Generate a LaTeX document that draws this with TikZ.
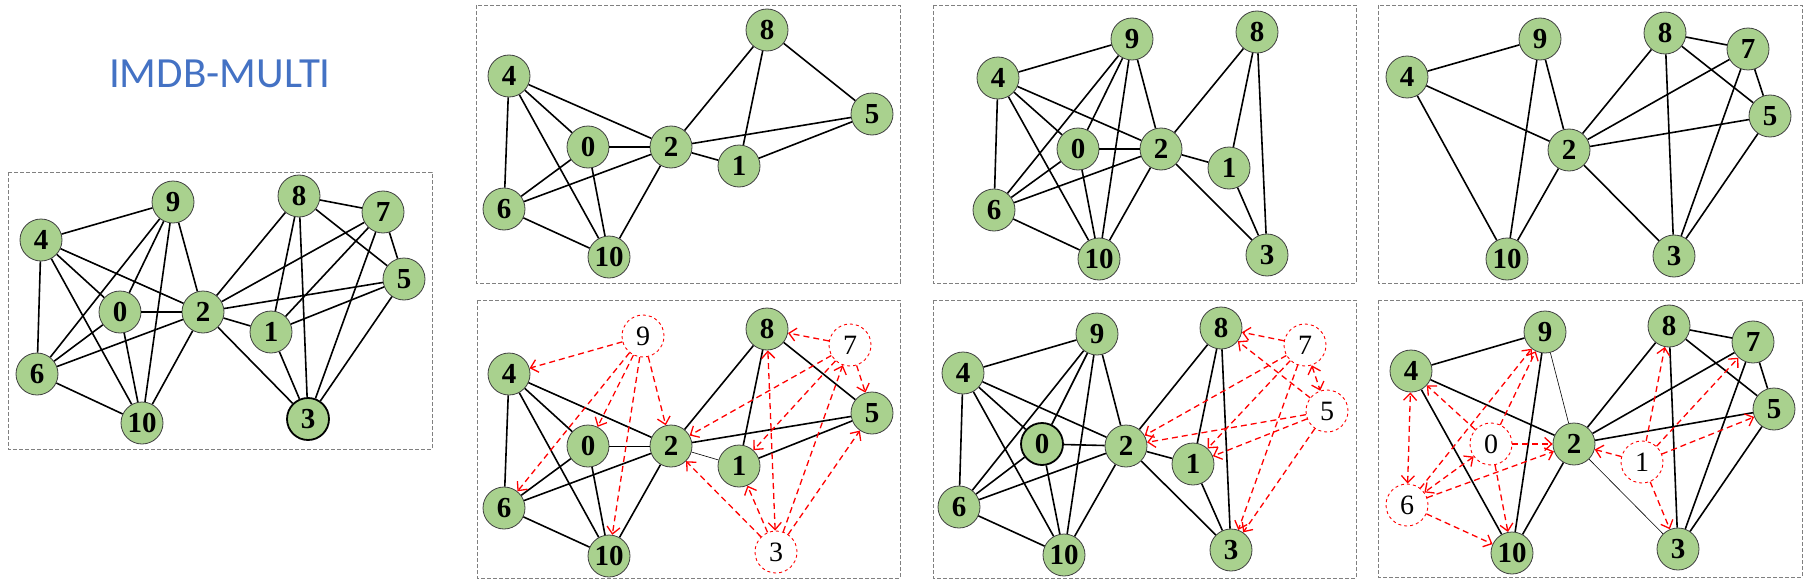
\documentclass[tikz,border=0pt]{standalone}
\usepackage{fontspec}
\setmainfont{Liberation Serif}
\newfontfamily\titlefont{Carlito}
\usepackage{xcolor}
\usetikzlibrary{arrows.meta}
\definecolor{nodegreen}{HTML}{A9D18E}
\definecolor{titleblue}{HTML}{4472C4}
\tikzset{
  gnode/.style={circle, draw=black!75, line width=0.8pt, fill=nodegreen, minimum size=42pt, inner sep=0pt, font=\fontsize{29}{29}\selectfont\bfseries},
  hnode/.style={gnode, draw=black, line width=1.8pt},
  rnode/.style={circle, draw=red, dashed, line width=0.9pt, fill=white, minimum size=42pt, inner sep=0pt, font=\fontsize{28}{28}\selectfont},
  panel/.style={draw=black!50, dash pattern=on 4pt off 2pt, line width=0.8pt},
  every edge/.style={draw, line width=1.6pt},
  thinedge/.style={line width=0.6pt},
  redarr/.style={->, draw=red, line width=1.3pt, dash pattern=on 6pt off 4pt},
  redboth/.style={redarr, <->},
  >={Straight Barb[length=7pt,width=13pt]}
}
\begin{document}
\begin{tikzpicture}[x=1pt,y=-1pt]
    \useasboundingbox (0,0) rectangle (1810,586);
    \node[text=titleblue, font=\titlefont\fontsize{43}{43}\selectfont] at (220,74) (title) {IMDB-MULTI};

    % original graph
    \draw[panel] (8,172) rectangle (432,449);
    \node[gnode] at (173,202) (a9) {9};
    \node[gnode] at (41,240) (a4) {4};
    \node[gnode] at (120,312) (a0) {0};
    \node[gnode] at (203,312) (a2) {2};
    \node[gnode] at (37,374) (a6) {6};
    \node[gnode] at (142,423) (a10) {10};
    \node[gnode] at (299,196) (a8) {8};
    \node[gnode] at (383,212) (a7) {7};
    \node[gnode] at (404,279) (a5) {5};
    \node[gnode] at (271,332) (a1) {1};
    \node[hnode] at (308,419) (a3) {3};
    \draw (a4) edge (a9) edge (a2) edge (a0) edge (a6) edge (a10);
    \draw (a9) edge (a6) edge (a0) edge (a10) edge (a2);
    \draw (a0) edge (a2) edge (a6) edge (a10);
    \draw (a6) edge (a2) edge (a10);
    \draw (a2) edge (a10) edge (a8) edge (a7) edge (a5) edge (a1) edge (a3);
    \draw (a8) edge (a7) edge (a1) edge (a3) edge (a5);
    \draw (a7) edge (a5) edge (a1) edge (a3);
    \draw (a5) edge (a1) edge (a3);
    \draw (a1) edge (a3);

    % top row, first
    \draw[panel] (476,5) rectangle (900,283);
    \node[gnode] at (767,30) (b8) {8};
    \node[gnode] at (509,76) (b4) {4};
    \node[gnode] at (872,114) (b5) {5};
    \node[gnode] at (588,147) (b0) {0};
    \node[gnode] at (671,147) (b2) {2};
    \node[gnode] at (739,166) (b1) {1};
    \node[gnode] at (504,209) (b6) {6};
    \node[gnode] at (609,257) (b10) {10};
    \draw (b8) edge (b2) edge (b1) edge (b5);
    \draw (b4) edge (b2) edge (b0) edge (b6) edge (b10);
    \draw (b5) edge (b2) edge (b1);
    \draw (b0) edge (b2) edge (b6) edge (b10);
    \draw (b2) edge (b1) edge (b6) edge (b10);
    \draw (b6) edge (b10);

    % top row, second
    \draw[panel] (933,5) rectangle (1356,283);
    \node[gnode] at (1132,39) (c9) {9};
    \node[gnode] at (998,78) (c4) {4};
    \node[gnode] at (1078,149) (c0) {0};
    \node[gnode] at (1161,149) (c2) {2};
    \node[gnode] at (1229,168) (c1) {1};
    \node[gnode] at (994,210) (c6) {6};
    \node[gnode] at (1099,259) (c10) {10};
    \node[gnode] at (1257,32) (c8) {8};
    \node[gnode] at (1267,255) (c3) {3};
    \draw (c4) edge (c9) edge (c2) edge (c0) edge (c6) edge (c10);
    \draw (c9) edge (c6) edge (c0) edge (c10) edge (c2);
    \draw (c0) edge (c2) edge (c6) edge (c10);
    \draw (c6) edge (c2) edge (c10);
    \draw (c2) edge (c10) edge (c8) edge (c1) edge (c3);
    \draw (c8) edge (c1) edge (c3);
    \draw (c1) edge (c3);

    % top row, third
    \draw[panel] (1378,5) rectangle (1802,283);
    \node[gnode] at (1540,39) (d9) {9};
    \node[gnode] at (1407,77) (d4) {4};
    \node[gnode] at (1569,150) (d2) {2};
    \node[gnode] at (1507,259) (d10) {10};
    \node[gnode] at (1665,33) (d8) {8};
    \node[gnode] at (1748,49) (d7) {7};
    \node[gnode] at (1770,116) (d5) {5};
    \node[gnode] at (1674,256) (d3) {3};
    \draw (d4) edge (d9) edge (d2) edge (d10);
    \draw (d9) edge (d10) edge (d2);
    \draw (d2) edge (d10) edge (d8) edge (d7) edge (d5) edge (d3);
    \draw (d8) edge (d7) edge (d5) edge (d3);
    \draw (d7) edge (d5) edge (d3);
    \draw (d5) edge (d3);

    % bottom row, first
    \draw[panel] (477,300) rectangle (900,578);
    \node[rnode] at (643,336) (e9) {9};
    \node[gnode] at (509,374) (e4) {4};
    \node[gnode] at (767,329) (e8) {8};
    \node[rnode] at (850,345) (e7) {7};
    \node[gnode] at (872,413) (e5) {5};
    \node[gnode] at (588,446) (e0) {0};
    \node[gnode] at (671,446) (e2) {2};
    \node[gnode] at (739,466) (e1) {1};
    \node[gnode] at (504,508) (e6) {6};
    \node[gnode] at (609,556) (e10) {10};
    \node[rnode] at (776,552) (e3) {3};
    \draw (e4) edge (e2) edge (e0) edge (e6) edge (e10);
    \draw (e8) edge (e2) edge (e1) edge (e5);
    \draw (e5) edge (e2) edge (e1);
    \draw (e0) edge[thinedge] (e2) edge (e6) edge (e10);
    \draw (e2) edge (e6) edge (e10) edge[thinedge] (e1);
    \draw (e6) edge (e10);
    \draw (e9) edge[redarr] (e4) edge[redarr] (e6) edge[redarr] (e0) edge[redarr] (e10) edge[redarr] (e2);
    \draw (e7) edge[redarr] (e8) edge[redarr] (e5) edge[redarr] (e2) edge[redarr] (e1);
    \draw (e3) edge[redarr] (e2) edge[redarr] (e1) edge[redarr] (e7) edge[redarr] (e5) edge[redboth] (e8);

    % bottom row, second
    \draw[panel] (933,300) rectangle (1356,578);
    \node[gnode] at (1097,334) (f9) {9};
    \node[gnode] at (963,373) (f4) {4};
    \node[gnode] at (1221,328) (f8) {8};
    \node[rnode] at (1305,345) (f7) {7};
    \node[rnode] at (1327,411) (f5) {5};
    \node[hnode] at (1042,444) (f0) {0};
    \node[gnode] at (1126,446) (f2) {2};
    \node[gnode] at (1193,464) (f1) {1};
    \node[gnode] at (959,507) (f6) {6};
    \node[gnode] at (1064,555) (f10) {10};
    \node[gnode] at (1231,550) (f3) {3};
    \draw (f4) edge (f9) edge (f2) edge (f0) edge (f6) edge (f10);
    \draw (f9) edge (f6) edge (f0) edge (f10) edge (f2);
    \draw (f0) edge (f2) edge (f6) edge (f10);
    \draw (f6) edge (f2) edge (f10);
    \draw (f2) edge (f10) edge (f8) edge (f1) edge (f3);
    \draw (f8) edge (f1) edge (f3);
    \draw (f1) edge (f3);
    \draw (f7) edge[redarr] (f8) edge[redarr] (f2) edge[redarr] (f1) edge[redarr] (f3) edge[redboth] (f5);
    \draw (f5) edge[redarr] (f8) edge[redarr] (f2) edge[redarr] (f1) edge[redarr] (f3);

    % bottom row, third
    \draw[panel] (1378,300) rectangle (1802,577);
    \node[gnode] at (1545,332) (g9) {9};
    \node[gnode] at (1411,371) (g4) {4};
    \node[gnode] at (1669,326) (g8) {8};
    \node[gnode] at (1753,342) (g7) {7};
    \node[gnode] at (1774,409) (g5) {5};
    \node[rnode] at (1491,444) (g0) {0};
    \node[gnode] at (1574,444) (g2) {2};
    \node[rnode] at (1642,462) (g1) {1};
    \node[rnode] at (1407,505) (g6) {6};
    \node[gnode] at (1512,553) (g10) {10};
    \node[gnode] at (1678,549) (g3) {3};
    \draw (g4) edge (g9) edge (g2) edge (g10);
    \draw (g9) edge (g10) edge[thinedge] (g2);
    \draw (g2) edge (g10) edge (g8) edge (g7) edge (g5) edge[thinedge] (g3);
    \draw (g8) edge (g7) edge (g5) edge (g3);
    \draw (g7) edge (g5) edge (g3);
    \draw (g5) edge (g3);
    \draw (g0) edge[redarr] (g4) edge[redarr] (g9) edge[redarr] (g2) edge[redarr] (g10) edge[redboth] (g6);
    \draw (g6) edge[redboth] (g4) edge[redarr] (g9) edge[redarr] (g2) edge[redarr] (g10);
    \draw (g1) edge[redarr] (g2) edge[redarr] (g8) edge[redarr] (g7) edge[redarr] (g5) edge[redarr] (g3);
\end{tikzpicture}
\end{document}
